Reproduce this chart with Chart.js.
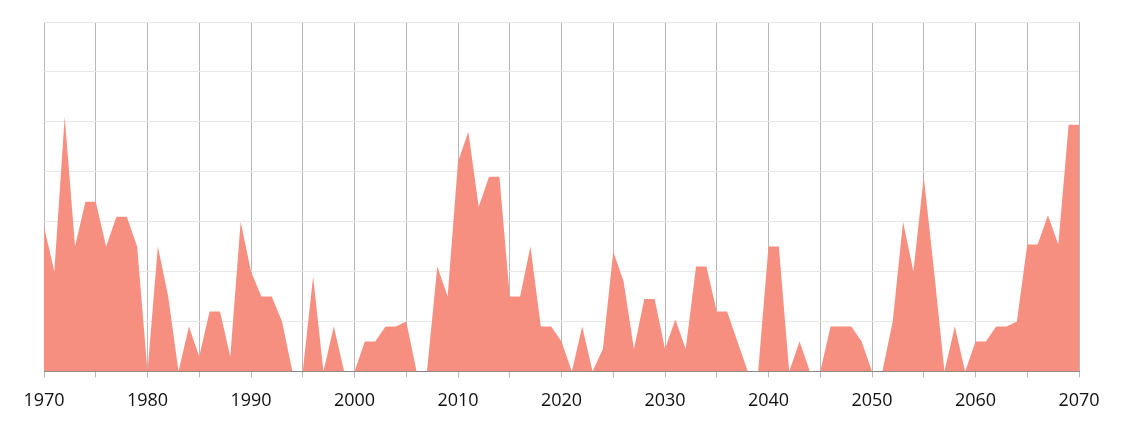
<!DOCTYPE html>
<html>
<head>
<meta charset="utf-8">
<script src="https://cdn.jsdelivr.net/npm/chart.js@4"></script>
<style>
  html, body { margin: 0; padding: 0; background: #fff; }
  #wrap { width: 1124px; height: 423px; }
</style>
</head>
<body>
<div id="wrap"><canvas id="chart"></canvas></div>
<script>
// years 1970..2070
const years = [
  1970, 1971, 1972, 1973, 1974, 1975, 1976, 1977, 1978, 1979,
  1980, 1981, 1982, 1983, 1984, 1985, 1986, 1987, 1988, 1989,
  1990, 1991, 1992, 1993, 1994, 1995, 1996, 1997, 1998, 1999,
  2000, 2001, 2002, 2003, 2004, 2005, 2006, 2007, 2008, 2009,
  2010, 2011, 2012, 2013, 2014, 2015, 2016, 2017, 2018, 2019,
  2020, 2021, 2022, 2023, 2024, 2025, 2026, 2027, 2028, 2029,
  2030, 2031, 2032, 2033, 2034, 2035, 2036, 2037, 2038, 2039,
  2040, 2041, 2042, 2043, 2044, 2045, 2046, 2047, 2048, 2049,
  2050, 2051, 2052, 2053, 2054, 2055, 2056, 2057, 2058, 2059,
  2060, 2061, 2062, 2063, 2064, 2065, 2066, 2067, 2068, 2069,
  2070
];

const values = [
  29, 20, 51, 25, 34, 34, 25, 31, 31, 25,
  0, 25, 15, 0, 9, 3, 12, 12, 3, 30,
  20, 15, 15, 10, 0, 0, 19, 0, 9, 0,
  0, 6, 6, 9, 9, 10, 0, 0, 21, 15,
  42, 48, 33, 39, 39, 15, 15, 25, 9, 9,
  6, 0, 9, 0, 4.5, 24, 18, 4.5, 14.5, 14.5,
  4.5, 10.4, 4.5, 21, 21, 12, 12, 6, 0, 0,
  25, 25, 0, 6, 0, 0, 9, 9, 9, 6,
  0, 0, 10, 30, 20, 39, 20, 0, 9, 0,
  6, 6, 9, 9, 10, 25.4, 25.4, 31.3, 25.4, 49.4,
  49.4
];

const yMax = 70;
const yStep = 10;

const points = years.map((y, i) => ({ x: y, y: values[i] }));

new Chart(document.getElementById('chart'), {
  type: 'line',
  data: {
    datasets: [{
      data: points,
      fill: 'origin',
      backgroundColor: '#f78f80',
      borderWidth: 0,
      borderColor: '#f78f80',
      pointRadius: 0,
      tension: 0
    }]
  },
  options: {
    responsive: true,
    maintainAspectRatio: false,
    animation: false,
    layout: { padding: { left: 44, right: 45, top: 22, bottom: -2 } },
    plugins: { legend: { display: false }, tooltip: { enabled: false } },
    scales: {
      x: {
        type: 'linear',
        min: 1970,
        max: 2070,
        grid: { color: '#b8b8b8', tickLength: 6, drawTicks: true },
        border: { color: '#888888' },
        ticks: {
          stepSize: 5,
          autoSkip: false,
          maxRotation: 0,
          padding: 13,
          color: '#111111',
          font: { family: 'Open Sans', size: 18 },
          callback: v => (v % 10 === 0 ? String(v) : '')
        }
      },
      y: {
        min: 0,
        max: yMax,
        grid: { color: '#e8e8e8', drawTicks: false },
        border: { display: false },
        ticks: { display: false, stepSize: yStep }
      }
    }
  }
});
</script>
</body>
</html>
